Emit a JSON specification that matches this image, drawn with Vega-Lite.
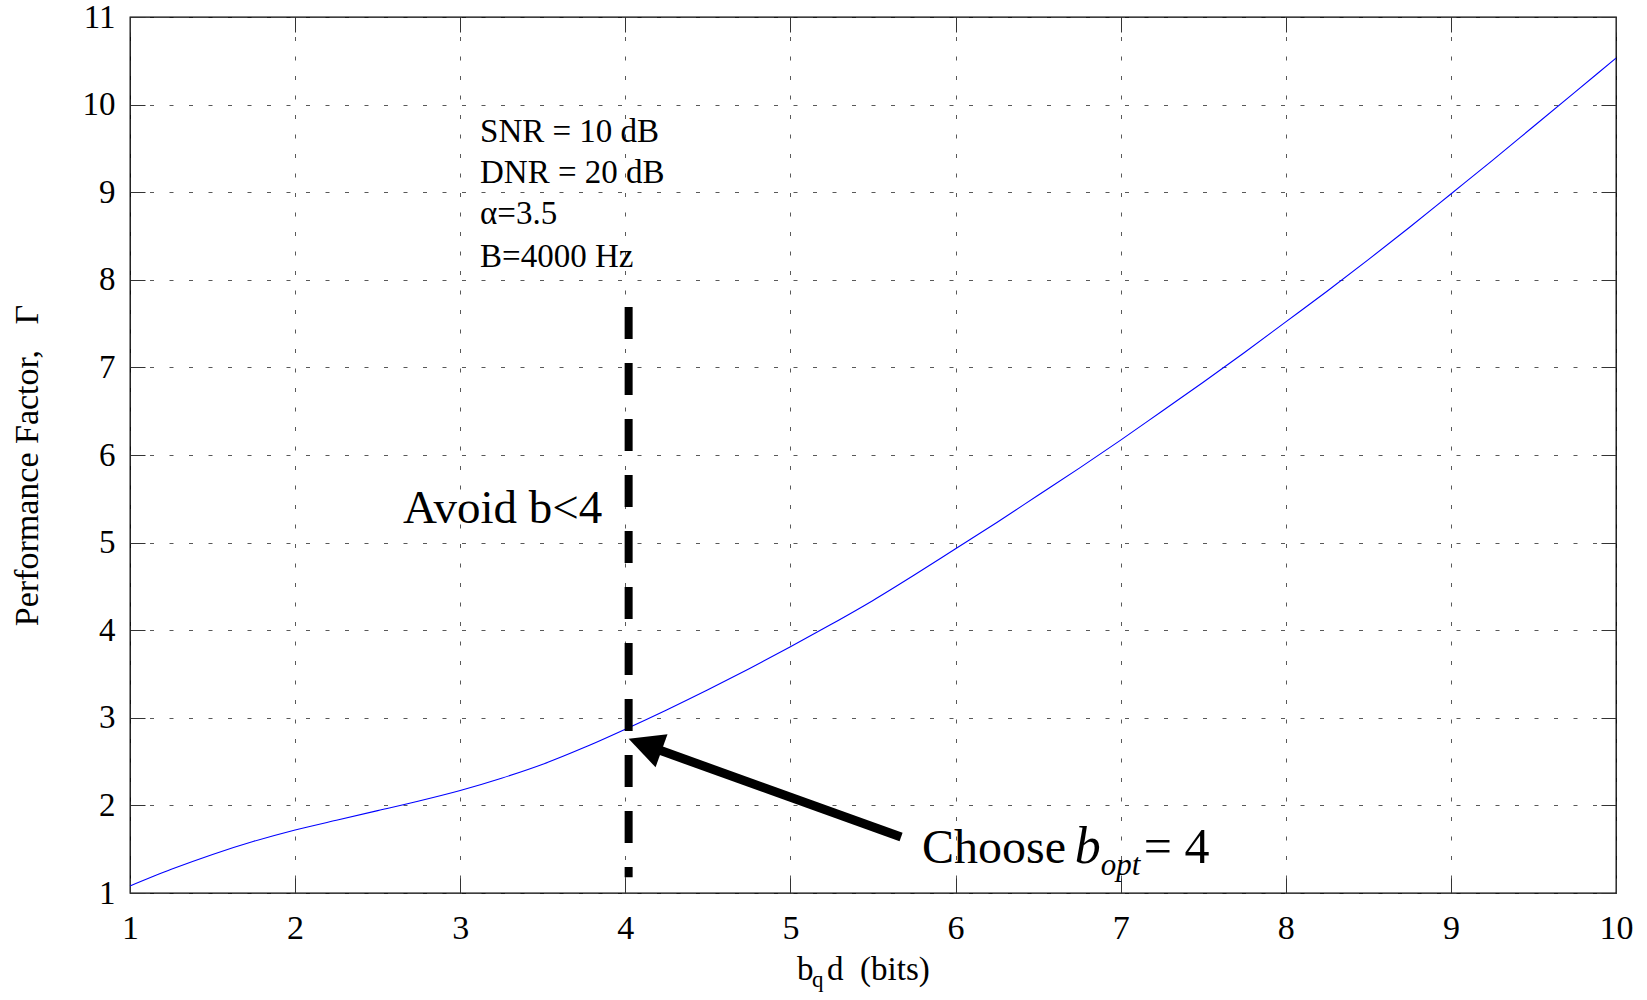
{
  "$schema": "https://vega.github.io/schema/vega-lite/v6.json",
  "autosize": "none",
  "padding": {"left": 130, "top": 17, "right": 31, "bottom": 107},
  "width": 1486,
  "height": 876,
  "background": "white",
  "config": {
    "view": {"stroke": "black", "strokeWidth": 1.3},
    "axis": {
      "domain": false,
      "labelFont": "Liberation Serif",
      "labelFontSize": 34,
      "labelColor": "black",
      "tickColor": "#333",
      "tickWidth": 1,
      "tickSize": -15,
      "gridColor": "#000",
      "gridOpacity": 0.65,
      "gridWidth": 1,
      "gridDash": [4, 15.5],
      "titleFont": "Liberation Serif",
      "titleFontSize": 34,
      "titleFontWeight": "normal",
      "titleColor": "black"
    }
  },
  "resolve": {"axis": {"x": "independent", "y": "independent"}},
  "layer": [
    {
      "data": {"values": [
        {"b": 1.0, "gamma": 1.08}, {"b": 1.25, "gamma": 1.27}, {"b": 1.5, "gamma": 1.44},
        {"b": 1.75, "gamma": 1.59}, {"b": 2.0, "gamma": 1.72}, {"b": 2.25, "gamma": 1.83},
        {"b": 2.5, "gamma": 1.94}, {"b": 2.75, "gamma": 2.05}, {"b": 3.0, "gamma": 2.17},
        {"b": 3.25, "gamma": 2.31}, {"b": 3.5, "gamma": 2.47}, {"b": 3.75, "gamma": 2.66},
        {"b": 4.0, "gamma": 2.87}, {"b": 4.25, "gamma": 3.09}, {"b": 4.5, "gamma": 3.32},
        {"b": 4.75, "gamma": 3.56}, {"b": 5.0, "gamma": 3.81}, {"b": 5.25, "gamma": 4.07},
        {"b": 5.5, "gamma": 4.34}, {"b": 5.75, "gamma": 4.63}, {"b": 6.0, "gamma": 4.93},
        {"b": 6.25, "gamma": 5.23}, {"b": 6.5, "gamma": 5.54}, {"b": 6.75, "gamma": 5.85},
        {"b": 7.0, "gamma": 6.17}, {"b": 7.25, "gamma": 6.5}, {"b": 7.5, "gamma": 6.83},
        {"b": 7.75, "gamma": 7.17}, {"b": 8.0, "gamma": 7.52}, {"b": 8.25, "gamma": 7.87},
        {"b": 8.5, "gamma": 8.23}, {"b": 8.75, "gamma": 8.6}, {"b": 9.0, "gamma": 8.98},
        {"b": 9.25, "gamma": 9.36}, {"b": 9.5, "gamma": 9.75}, {"b": 9.75, "gamma": 10.14},
        {"b": 10.0, "gamma": 10.53}
      ]},
      "mark": {"type": "line", "color": "#0000ff", "strokeWidth": 1.1, "interpolate": "monotone"},
      "encoding": {
        "x": {"field": "b", "type": "quantitative",
          "scale": {"domain": [1, 10], "nice": false, "zero": false},
          "axis": {"orient": "bottom", "title": null, "values": [1,2,3,4,5,6,7,8,9,10], "grid": true, "labelPadding": 33, "labelFlush": false}},
        "y": {"field": "gamma", "type": "quantitative",
          "scale": {"domain": [1, 11], "nice": false, "zero": false},
          "axis": {"orient": "left", "title": "Performance Factor,\u00a0\u00a0\u00a0Γ", "titleX": -86, "titleY": 448, "titleAngle": -90, "titleBaseline": "bottom", "values": [1,2,3,4,5,6,7,8,9,10,11], "grid": true, "labelPadding": 30, "labelFontSize": 33, "labelFlush": false}}
      }
    },
    {
      "data": {"values": [{"b": 4.02, "top": 7.69, "bottom": 1.18}]},
      "mark": {"type": "rule", "color": "black", "strokeWidth": 8, "strokeDash": [32, 24], "strokeCap": "butt"},
      "encoding": {
        "x": {"field": "b", "type": "quantitative",
          "axis": {"orient": "top", "title": null, "labels": false, "grid": false, "values": [1,2,3,4,5,6,7,8,9,10]}},
        "y": {"field": "top", "type": "quantitative",
          "axis": {"orient": "right", "title": null, "labels": false, "grid": false, "values": [1,2,3,4,5,6,7,8,9,10,11]}},
        "y2": {"field": "bottom"}
      }
    },
    {
      "data": {"values": [{"x": 5.67, "y": 1.64, "x2": 4.193, "y2": 2.64}]},
      "mark": {"type": "rule", "color": "black", "strokeWidth": 9, "strokeCap": "butt"},
      "encoding": {
        "x": {"field": "x", "type": "quantitative", "axis": null},
        "y": {"field": "y", "type": "quantitative", "axis": null},
        "x2": {"field": "x2"},
        "y2": {"field": "y2"}
      }
    },
    {
      "data": {"values": [{"x": 4.02, "y": 2.76}]},
      "mark": {"type": "point", "shape": "M0,0L-1,2L1,2Z", "size": 1225, "angle": 290, "filled": true, "color": "black", "opacity": 1, "strokeWidth": 0},
      "encoding": {
        "x": {"field": "x", "type": "quantitative", "axis": null},
        "y": {"field": "y", "type": "quantitative", "axis": null}
      }
    },
    {
      "data": {"values": [
        {"label": "SNR = 10 dB", "x": 3.12, "y": 9.575},
        {"label": "DNR = 20 dB", "x": 3.12, "y": 9.107},
        {"label": "α=3.5", "x": 3.12, "y": 8.64},
        {"label": "B=4000 Hz", "x": 3.12, "y": 8.15}
      ]},
      "mark": {"type": "text", "font": "Liberation Serif", "fontSize": 33, "align": "left", "baseline": "alphabetic", "color": "black"},
      "encoding": {
        "x": {"field": "x", "type": "quantitative", "axis": null},
        "y": {"field": "y", "type": "quantitative", "axis": null},
        "text": {"field": "label"}
      }
    },
    {
      "data": {"values": [{"label": "Avoid b<4", "x": 2.654, "y": 5.22}]},
      "mark": {"type": "text", "font": "Liberation Serif", "fontSize": 47, "align": "left", "baseline": "alphabetic", "color": "black"},
      "encoding": {
        "x": {"field": "x", "type": "quantitative", "axis": null},
        "y": {"field": "y", "type": "quantitative", "axis": null},
        "text": {"field": "label"}
      }
    },
    {
      "data": {"values": [{"label": "Choose", "x": 5.797, "y": 1.342}]},
      "mark": {"type": "text", "font": "Liberation Serif", "fontSize": 48, "align": "left", "baseline": "alphabetic", "color": "black"},
      "encoding": {
        "x": {"field": "x", "type": "quantitative", "axis": null},
        "y": {"field": "y", "type": "quantitative", "axis": null},
        "text": {"field": "label"}
      }
    },
    {
      "data": {"values": [{"label": "b", "x": 6.722, "y": 1.342}]},
      "mark": {"type": "text", "font": "Liberation Serif", "fontStyle": "italic", "fontSize": 52, "align": "left", "baseline": "alphabetic", "color": "black"},
      "encoding": {
        "x": {"field": "x", "type": "quantitative", "axis": null},
        "y": {"field": "y", "type": "quantitative", "axis": null},
        "text": {"field": "label"}
      }
    },
    {
      "data": {"values": [{"label": "opt", "x": 6.88, "y": 1.2}]},
      "mark": {"type": "text", "font": "Liberation Serif", "fontStyle": "italic", "fontSize": 31, "align": "left", "baseline": "alphabetic", "color": "black"},
      "encoding": {
        "x": {"field": "x", "type": "quantitative", "axis": null},
        "y": {"field": "y", "type": "quantitative", "axis": null},
        "text": {"field": "label"}
      }
    },
    {
      "data": {"values": [{"label": "= 4", "x": 7.14, "y": 1.342}]},
      "mark": {"type": "text", "font": "Liberation Serif", "fontSize": 50, "align": "left", "baseline": "alphabetic", "color": "black"},
      "encoding": {
        "x": {"field": "x", "type": "quantitative", "axis": null},
        "y": {"field": "y", "type": "quantitative", "axis": null},
        "text": {"field": "label"}
      }
    },
    {
      "data": {"values": [
        {"label": "b", "x": 5.04, "y": 0.008},
        {"label": "d\u00a0\u00a0(bits)", "x": 5.222, "y": 0.008}
      ]},
      "mark": {"type": "text", "font": "Liberation Serif", "fontSize": 33, "align": "left", "baseline": "alphabetic", "color": "black"},
      "encoding": {
        "x": {"field": "x", "type": "quantitative", "axis": null},
        "y": {"field": "y", "type": "quantitative", "axis": null},
        "text": {"field": "label"}
      }
    },
    {
      "data": {"values": [{"label": "q", "x": 5.131, "y": -0.072}]},
      "mark": {"type": "text", "font": "Liberation Serif", "fontSize": 23, "align": "left", "baseline": "alphabetic", "color": "black"},
      "encoding": {
        "x": {"field": "x", "type": "quantitative", "axis": null},
        "y": {"field": "y", "type": "quantitative", "axis": null},
        "text": {"field": "label"}
      }
    }
  ]
}
